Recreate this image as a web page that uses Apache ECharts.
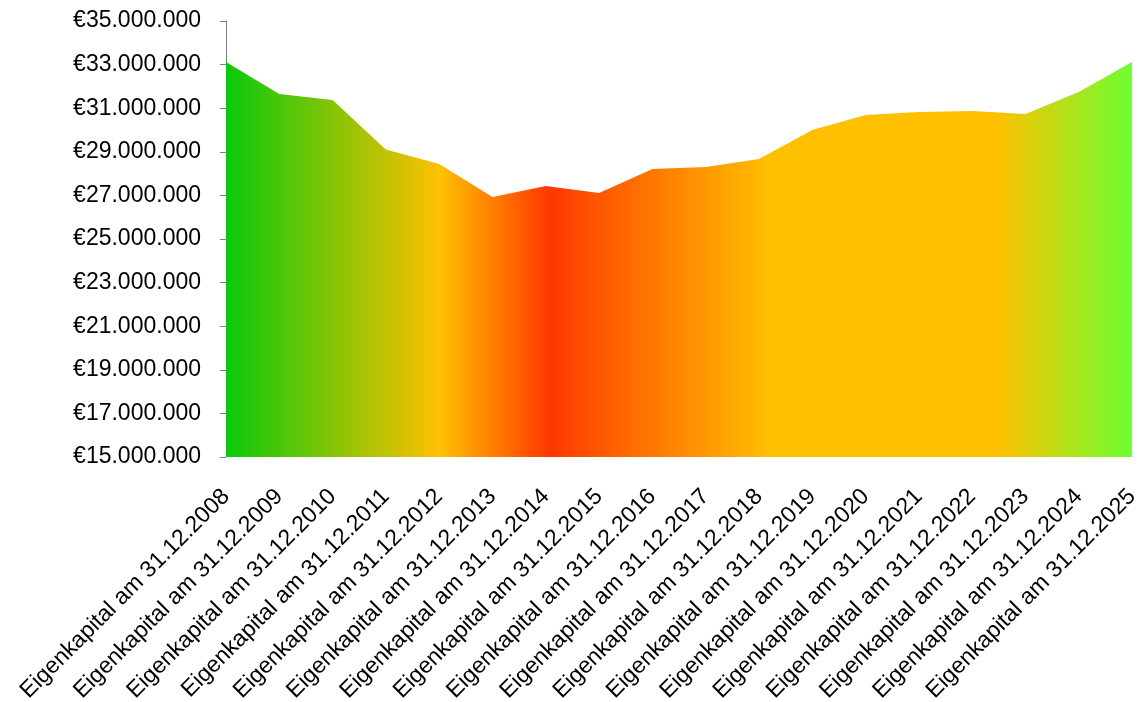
<!DOCTYPE html>
<html>
<head>
<meta charset="utf-8">
<script src="https://cdn.jsdelivr.net/npm/echarts@6/dist/echarts.min.js"></script>
<style>
  html, body { margin: 0; padding: 0; background: #fff; }
  #chart { width: 1142px; height: 702px; }
</style>
</head>
<body>
<div id="chart"></div>
<script>
// Jahre / Kategorien
const years = ['2008', '2009', '2010', '2011', '2012', '2013', '2014', '2015', '2016',
  '2017', '2018', '2019', '2020', '2021', '2022', '2023', '2024', '2025'];
const categories = years.map((y) => 'Eigenkapital am 31.12.' + y);

// Eigenkapital in Euro
const equity = [33120000, 31650000, 31380000, 29100000, 28440000, 26930000, 27430000,
  27110000, 28210000, 28300000, 28670000, 30000000, 30690000, 30830000, 30870000,
  30730000, 31740000, 33120000];

const yMin = 15000000;
const yMax = 35000000;
const yStep = 2000000;

const myChart = echarts.init(document.getElementById('chart'));

const formatEuro = (v) => '€' + String(v).replace(/\B(?=(\d{3})+(?!\d))/g, '.');

const option = {
  animation: false,
  grid: {
    left: 226,
    right: 10,
    top: 21,
    bottom: 245,
    outerBoundsMode: 'none'
  },
  xAxis: {
    type: 'category',
    boundaryGap: false,
    data: categories,
    axisLine: { show: false },
    axisTick: { show: false },
    axisLabel: {
      rotate: 45,
      margin: 36,
      color: '#000',
      fontSize: 23,
      fontFamily: 'Liberation Sans, Arial, sans-serif'
    }
  },
  yAxis: {
    type: 'value',
    min: yMin,
    max: yMax,
    interval: yStep,
    splitLine: { show: false },
    axisLine: { show: true, lineStyle: { color: '#808080', width: 1 } },
    axisTick: { show: true, length: 6, lineStyle: { color: '#808080' } },
    axisLabel: {
      margin: 25,
      color: '#000',
      fontSize: 23,
      fontFamily: 'Liberation Sans, Arial, sans-serif',
      formatter: formatEuro
    }
  },
  series: [
    {
      type: 'line',
      data: equity,
      symbol: 'none',
      lineStyle: { width: 0 },
      areaStyle: {
        opacity: 1,
        // Farbverlauf von links nach rechts
        color: new echarts.graphic.LinearGradient(0, 0, 1, 0, [
          { offset: 0, color: '#0cc80c' },
          { offset: 0.236, color: '#ffc000' },
          { offset: 0.357, color: '#ff3800' },
          { offset: 0.6, color: '#ffc000' },
          { offset: 0.85, color: '#ffc000' },
          { offset: 1, color: '#6cff30' }
        ])
      }
    }
  ]
};

option && myChart.setOption(option);
window.addEventListener('resize', myChart.resize);
</script>
</body>
</html>
